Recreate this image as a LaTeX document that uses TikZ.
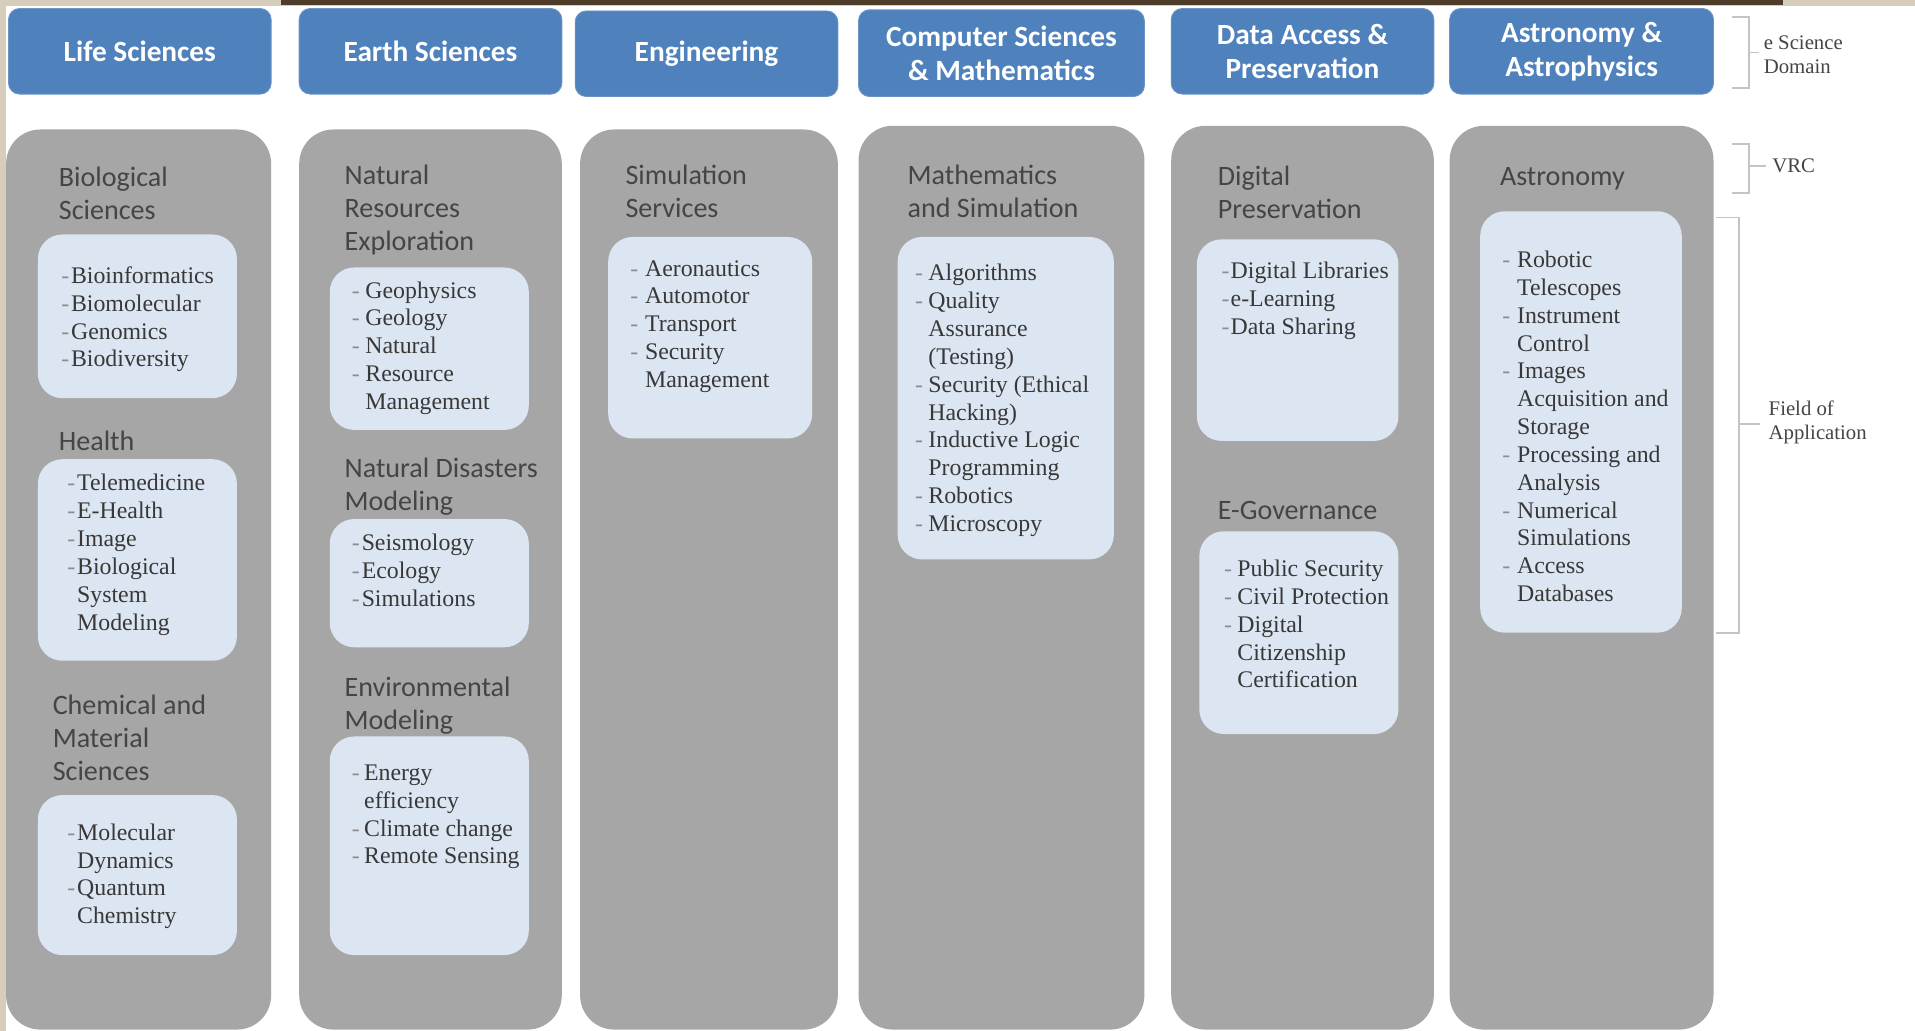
\documentclass[tikz,border=0pt]{standalone}
\usepackage{fontspec}
\usepackage{array}
\setmainfont{Liberation Serif}
\newfontfamily\hdfont{Carlito}
\newfontfamily\serfont{Liberation Serif}
\definecolor{hdrblue}{HTML}{4F81BD}
\definecolor{hdrline}{HTML}{6A93C6}
\definecolor{colgray}{HTML}{A6A6A6}
\definecolor{boxblue}{HTML}{DCE6F2}
\definecolor{headc}{HTML}{454545}
\definecolor{itemc}{HTML}{383838}
\definecolor{bulc}{HTML}{8C8C8C}
\definecolor{sidec}{HTML}{454545}
\definecolor{brkc}{HTML}{C4C4C4}
\definecolor{beigec}{HTML}{D6CEBA}
\definecolor{brownc}{HTML}{4E3B28}
\newcommand\hlines[1]{\begin{tabular}[t]{@{}l@{}}#1\end{tabular}}
\newcommand\ilist[2]{\begin{tabular}[t]{@{}p{#1pt}@{}l@{}}#2\end{tabular}}
\newcommand\bu{\mbox{\textcolor{bulc}{-}}}
\begin{document}
\begin{tikzpicture}[x=1pt,y=-1pt,
  hdrbox/.style={draw=hdrline, line width=0.8pt, fill=hdrblue, rounded corners=9pt,
    inner sep=0pt, outer sep=0pt, text=white,
    font=\hdfont\bfseries\fontsize{24}{28}\selectfont, align=center, anchor=north west},
  colbox/.style={fill=colgray, rounded corners=28pt, inner sep=0pt, outer sep=0pt, anchor=north west},
  subbox/.style={fill=boxblue, rounded corners=20pt, inner sep=0pt, outer sep=0pt, anchor=north west},
  headtxt/.style={text=headc, font=\hdfont\fontsize{23}{27}\selectfont, anchor=base west, inner sep=0pt},
  itemtxt/.style={text=itemc, font=\serfont\fontsize{19.5}{22.8}\selectfont, anchor=base west, inner sep=0pt},
  sidetxt/.style={text=sidec, font=\serfont\fontsize{17}{20}\selectfont, anchor=west, inner sep=0pt, align=left},
  brk/.style={draw=brkc, line width=1.4pt}
]
\useasboundingbox (0,0) rectangle (1568,844);
\fill[white] (0,0) rectangle (1568,844);
% textured edges
\fill[beigec] (0,0) rectangle (1568,5);
\fill[brownc] (230,0) rectangle (1460,4);
\fill[beigec] (0,0) rectangle (5,844);

% header boxes
\node[hdrbox, minimum width=215pt, minimum height=70pt] (h1) at (7,7) {Life Sciences};
\node[hdrbox, minimum width=215pt, minimum height=70pt] (h2) at (245,7) {Earth Sciences};
\node[hdrbox, minimum width=215pt, minimum height=70pt] (h3) at (471,9) {Engineering};
\node[hdrbox, minimum width=234pt, minimum height=71pt] (h4) at (703,8) {Computer Sciences\\\& Mathematics};
\node[hdrbox, minimum width=215pt, minimum height=70pt] (h5) at (959,7) {Data Access \&\\Preservation};
\node[hdrbox, minimum width=216pt, minimum height=70pt] (h6) at (1187,7) {Astronomy \&\\Astrophysics};

% columns
\node[colbox, minimum width=217pt, minimum height=737pt] (c1) at (5,106) {};
\node[colbox, minimum width=215pt, minimum height=737pt] (c2) at (245,106) {};
\node[colbox, minimum width=211pt, minimum height=737pt] (c3) at (475,106) {};
\node[colbox, minimum width=234pt, minimum height=740pt] (c4) at (703,103) {};
\node[colbox, minimum width=215pt, minimum height=740pt] (c5) at (959,103) {};
\node[colbox, minimum width=216pt, minimum height=740pt] (c6) at (1187,103) {};

% sub boxes
\node[subbox, minimum width=163pt, minimum height=134pt] (b11) at (31,192) {};
\node[subbox, minimum width=163pt, minimum height=165pt] (b12) at (31,376) {};
\node[subbox, minimum width=163pt, minimum height=131pt] (b13) at (31,651) {};
\node[subbox, minimum width=163pt, minimum height=133pt] (b21) at (270,219) {};
\node[subbox, minimum width=163pt, minimum height=105pt] (b22) at (270,425) {};
\node[subbox, minimum width=163pt, minimum height=179pt] (b23) at (270,603) {};
\node[subbox, minimum width=167pt, minimum height=165pt] (b31) at (498,194) {};
\node[subbox, minimum width=177pt, minimum height=264pt] (b41) at (735,194) {};
\node[subbox, minimum width=165pt, minimum height=165pt] (b51) at (980,196) {};
\node[subbox, minimum width=163pt, minimum height=166pt] (b52) at (982,435) {};
\node[subbox, minimum width=165pt, minimum height=345pt] (b61) at (1212,173) {};

% column 1
\node[headtxt] (t11) at (48,153) {\hlines{Biological\\Sciences}};
\node[itemtxt] (l11) at (50,232) {\ilist{8}{\bu & Bioinformatics\\ \bu & Biomolecular\\ \bu & Genomics\\ \bu & Biodiversity}};
\node[headtxt] (t12) at (48,369) {\hlines{Health}};
\node[itemtxt] (l12) at (55,402) {\ilist{8}{\bu & Telemedicine\\ \bu & E-Health\\ \bu & Image\\ \bu & Biological\\ & System\\ & Modeling}};
\node[headtxt] (t13) at (43,585) {\hlines{Chemical and\\Material\\Sciences}};
\node[itemtxt] (l13) at (55,688) {\ilist{8}{\bu & Molecular\\ & Dynamics\\ \bu & Quantum\\ & Chemistry}};

% column 2
\node[headtxt] (t21) at (282,151) {\hlines{Natural\\Resources\\Exploration}};
\node[itemtxt] (l21) at (288,244) {\ilist{11}{\bu & Geophysics\\ \bu & Geology\\ \bu & Natural\\ \bu & Resource\\ & Management}};
\node[headtxt] (t22) at (282,391) {\hlines{Natural Disasters\\Modeling}};
\node[itemtxt] (l22) at (288,451) {\ilist{8}{\bu & Seismology\\ \bu & Ecology\\ \bu & Simulations}};
\node[headtxt] (t23) at (282,570) {\hlines{Environmental\\Modeling}};
\node[itemtxt] (l23) at (288,639) {\ilist{10}{\bu & Energy\\ & efficiency\\ \bu & Climate change\\ \bu & Remote Sensing}};

% column 3
\node[headtxt] (t31) at (512,151) {\hlines{Simulation\\Services}};
\node[itemtxt] (l31) at (516,226) {\ilist{12}{\bu & Aeronautics\\ \bu & Automotor\\ \bu & Transport\\ \bu & Security\\ & Management}};

% column 4
\node[headtxt] (t41) at (743,151) {\hlines{Mathematics\\and Simulation}};
\node[itemtxt] (l41) at (749,230) {\ilist{11}{\bu & Algorithms\\ \bu & Quality\\ & Assurance\\ & (Testing)\\ \bu & Security (Ethical\\ & Hacking)\\ \bu & Inductive Logic\\ & Programming\\ \bu & Robotics\\ \bu & Microscopy}};

% column 5
\node[headtxt] (t51) at (997,152) {\hlines{Digital\\Preservation}};
\node[itemtxt] (l51) at (1000,228) {\ilist{7.5}{\bu & Digital Libraries\\ \bu & e-Learning\\ \bu & Data Sharing}};
\node[headtxt] (t52) at (997,425) {\hlines{E-Governance}};
\node[itemtxt] (l52) at (1002,472) {\ilist{11}{\bu & Public Security\\ \bu & Civil Protection\\ \bu & Digital\\ & Citizenship\\ & Certification}};

% column 6
\node[headtxt] (t61) at (1228,152) {\hlines{Astronomy}};
\node[itemtxt] (l61) at (1230,219) {\ilist{12}{\bu & Robotic\\ & Telescopes\\ \bu & Instrument\\ & Control\\ \bu & Images\\ & Acquisition and\\ & Storage\\ \bu & Processing and\\ & Analysis\\ \bu & Numerical\\ & Simulations\\ \bu & Access\\ & Databases}};

% side labels and brackets
\node[sidetxt] (sd) at (1444,45) {e Science\\Domain};
\node[sidetxt] (sv) at (1451,136) {VRC};
\node[sidetxt] (sf) at (1448,346) {Field of\\Application};

\coordinate (eA) at (1418,14);
\coordinate (eB) at (1432,14);
\coordinate (eC) at (1432,72);
\coordinate (eD) at (1418,72);
\coordinate (eM) at (1432,43);
\coordinate (eT) at (1440,43);
\draw[brk] (eA) -- (eB) -- (eC) -- (eD);
\draw[brk] (eM) -- (eT);

\coordinate (vA) at (1418,118);
\coordinate (vB) at (1432,118);
\coordinate (vC) at (1432,158);
\coordinate (vD) at (1418,158);
\coordinate (vM) at (1432,136);
\coordinate (vT) at (1446,136);
\draw[brk] (vA) -- (vB) -- (vC) -- (vD);
\draw[brk] (vM) -- (vT);

\coordinate (fA) at (1405,178);
\coordinate (fB) at (1424,178);
\coordinate (fC) at (1424,518);
\coordinate (fD) at (1405,518);
\coordinate (fM) at (1424,347);
\coordinate (fT) at (1441,347);
\draw[brk] (fA) -- (fB) -- (fC) -- (fD);
\draw[brk] (fM) -- (fT);
\end{tikzpicture}
\end{document}
